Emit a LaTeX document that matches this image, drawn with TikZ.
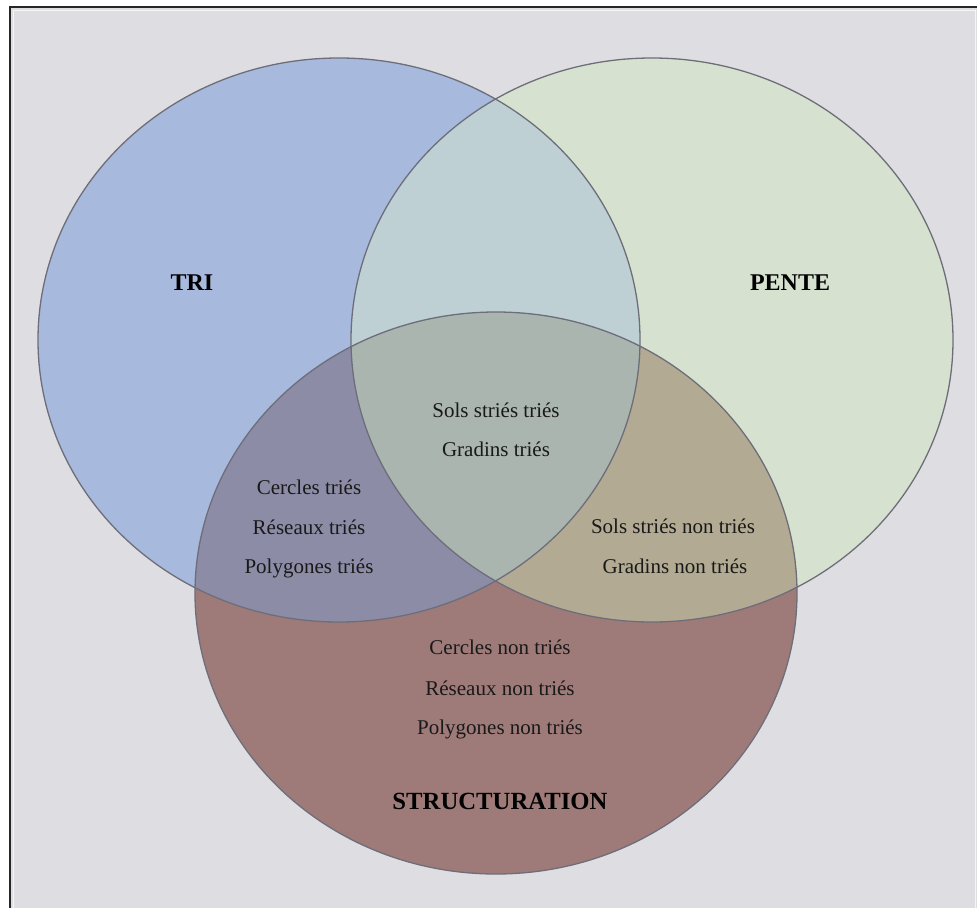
\documentclass[tikz,border=0pt]{standalone}
\usepackage{fontspec}
\setmainfont{Liberation Serif}
\definecolor{bg}{RGB}{222,221,226}
\definecolor{cA}{RGB}{167,185,220}
\definecolor{cB}{RGB}{214,226,207}
\definecolor{cC}{RGB}{158,123,121}
\definecolor{cAB}{RGB}{190,208,212}
\definecolor{cAC}{RGB}{140,140,166}
\definecolor{cBC}{RGB}{178,170,146}
\definecolor{cABC}{RGB}{170,181,176}
\definecolor{edge}{RGB}{110,110,122}
\tikzset{
  lbl/.style={font=\fontsize{21}{24}\selectfont, text=black!90, inner sep=0pt},
  ttl/.style={font=\fontsize{24}{28}\selectfont\bfseries, text=black, inner sep=0pt},
  ring/.style={draw=edge, line width=1.3pt}
}
\def\setA{(339,340) ellipse [x radius=301, y radius=282]}
\def\setB{(652,340) ellipse [x radius=301, y radius=282]}
\def\setC{(496,593) ellipse [x radius=301, y radius=281]}
\begin{document}
\begin{tikzpicture}[x=1pt,y=-1pt]
\useasboundingbox (0,0) rectangle (977,908);
\fill[bg] (0,0) rectangle (977,908);
\fill[white] (0,0) rectangle (9,908);
\fill[white] (0,0) rectangle (977,6);
\draw[black!85, line width=1.5pt] (9.8,908) -- (9.8,7.2) -- (977,7.2);
\draw[white!70!bg, line width=1pt] (13.5,908) -- (13.5,10.5) -- (975.5,10.5) -- (975.5,908);
% regions
\fill[cA] \setA;
\fill[cB] \setB;
\fill[cC] \setC;
\begin{scope}\clip \setA; \fill[cAB] \setB; \end{scope}
\begin{scope}\clip \setA; \fill[cAC] \setC; \end{scope}
\begin{scope}\clip \setB; \fill[cBC] \setC; \end{scope}
\begin{scope}\clip \setA; \clip \setB; \fill[cABC] \setC; \end{scope}
\draw[ring] \setA;
\draw[ring] \setB;
\draw[ring] \setC;
% labels
\node[ttl] (tri) at (192,283) {TRI};
\node[ttl] (pente) at (790,283) {PENTE};
\node[ttl, font=\fontsize{24.7}{28}\selectfont\bfseries] (struct) at (500,801) {STRUCTURATION};
\node[lbl] (s1) at (496,410) {Sols striés triés};
\node[lbl] (s2) at (496,449) {Gradins triés};
\node[lbl] (a1) at (309,487) {Cercles triés};
\node[lbl] (a2) at (309,527) {Réseaux triés};
\node[lbl] (a3) at (309,568) {Polygones triés};
\node[lbl] (b1) at (673,526) {Sols striés non triés};
\node[lbl] (b2) at (675,566) {Gradins non triés};
\node[lbl] (c1) at (500,647) {Cercles non triés};
\node[lbl] (c2) at (500,688) {Réseaux non triés};
\node[lbl] (c3) at (500,729) {Polygones non triés};
\end{tikzpicture}
\end{document}
